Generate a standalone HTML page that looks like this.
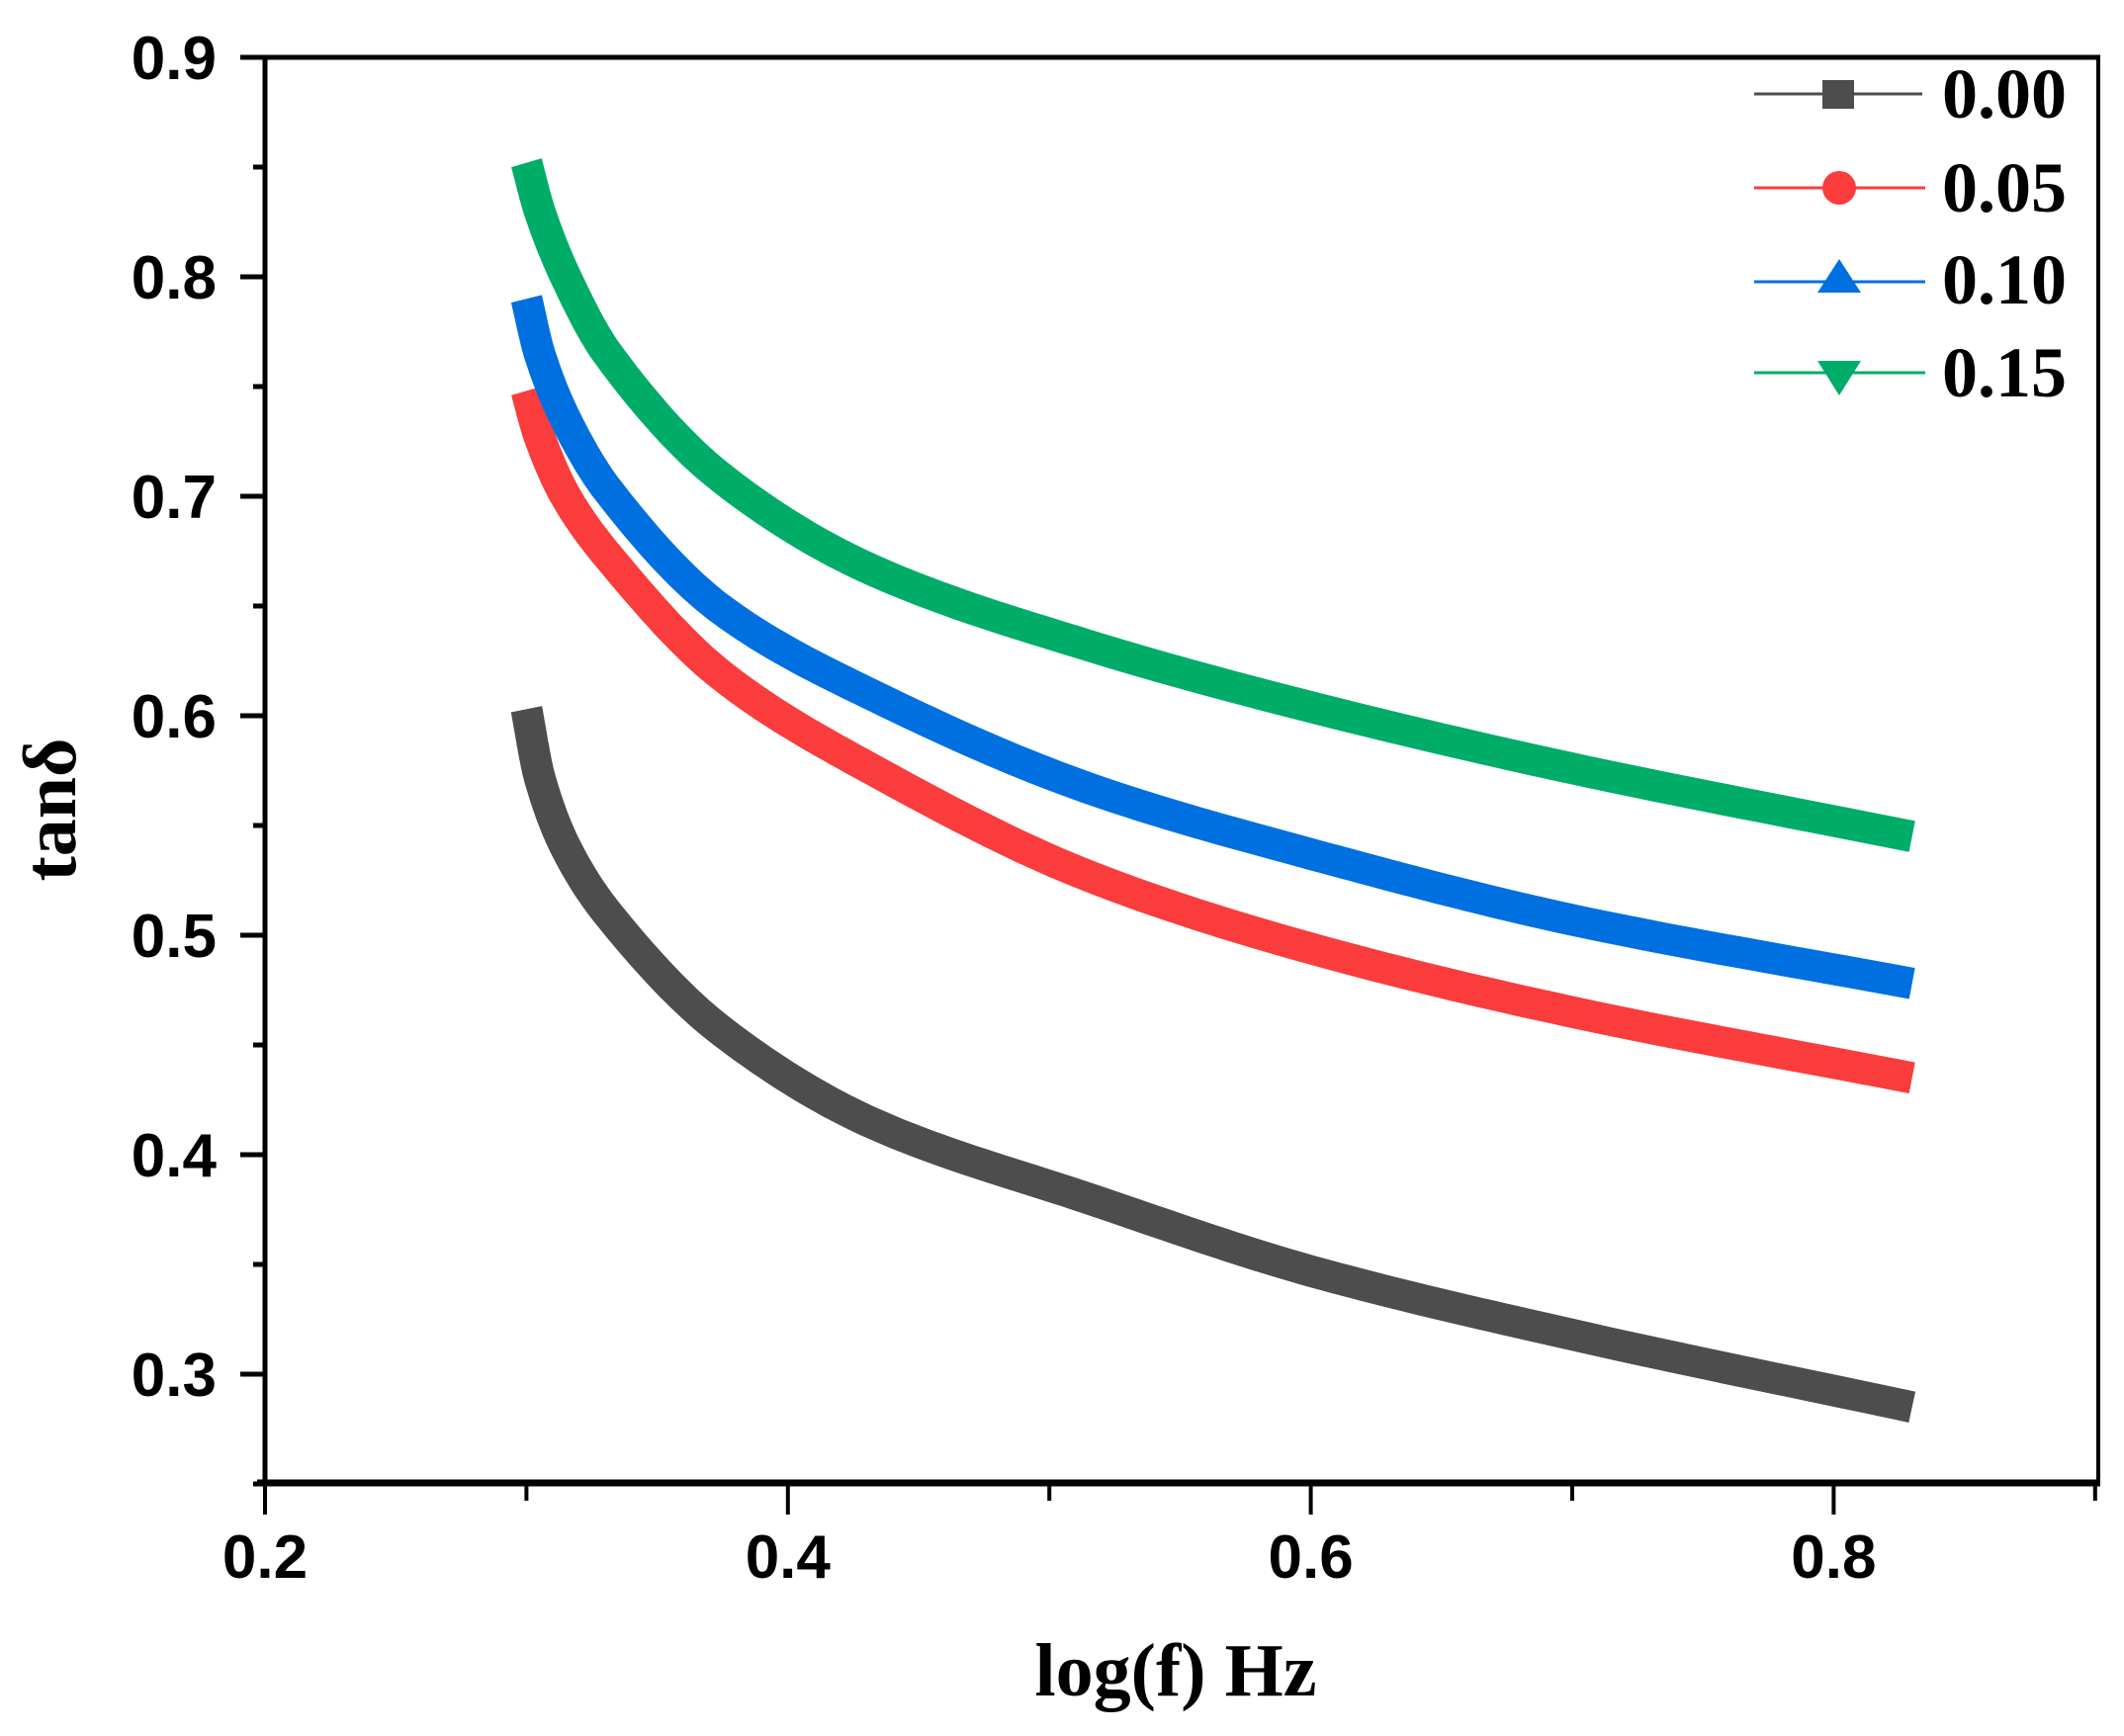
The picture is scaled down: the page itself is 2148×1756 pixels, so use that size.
<!DOCTYPE html>
<html><head><meta charset="utf-8"><style>
html,body{margin:0;padding:0;background:#fff;}
svg{display:block;}
</style></head><body>
<svg id="s" width="2148" height="1756" viewBox="0 0 2148 1756" xmlns="http://www.w3.org/2000/svg">
<rect width="2148" height="1756" fill="#fff"/>
<g id="curves" fill="none" stroke-linejoin="round" stroke-linecap="butt"></g>
<line x1="268" y1="58" x2="2124" y2="58" stroke="#000" stroke-width="5"/>
<line x1="2122" y1="56" x2="2122" y2="1500" stroke="#000" stroke-width="4"/>
<line x1="268" y1="56" x2="268" y2="1503" stroke="#000" stroke-width="5"/>
<line x1="260" y1="1500" x2="2124" y2="1500" stroke="#000" stroke-width="7"/>
<g id="ticks" stroke="#000"></g>
<g font-family="'Liberation Sans', Arial, sans-serif" font-weight="bold" font-size="62" fill="#000" id="labels"></g>
<text x="1189" y="1715" text-anchor="middle" font-family="'Liberation Serif', 'Times New Roman', serif" font-weight="bold" font-size="76">log(f) Hz</text>
<text transform="translate(76,819) rotate(-90)" text-anchor="middle" font-family="'Liberation Serif', 'DejaVu Serif', serif" font-weight="bold" font-size="76">tanδ</text>
<g font-family="'Liberation Serif', 'Times New Roman', serif" font-weight="bold" font-size="72" fill="#000">
<line x1="1774" y1="95" x2="1944" y2="95" stroke="#4d4d4d" stroke-width="3"/>
<rect x="1843" y="81" width="32" height="29" fill="#4d4d4d"/>
<text x="1964" y="119">0.00</text>
<line x1="1774" y1="190" x2="1947" y2="190" stroke="#fa3c3c" stroke-width="3"/>
<circle cx="1860" cy="190" r="17" fill="#fa3c3c"/>
<text x="1964" y="214">0.05</text>
<line x1="1774" y1="285" x2="1947" y2="285" stroke="#0070e0" stroke-width="3"/>
<polygon points="1860,262 1882,296 1838,296" fill="#0070e0"/>
<text x="1964" y="307">0.10</text>
<line x1="1774" y1="377" x2="1947" y2="377" stroke="#00ad68" stroke-width="3"/>
<polygon points="1838,365 1882,365 1860,400" fill="#00ad68"/>
<text x="1964" y="401">0.15</text>
</g>
</svg>
<script>
(function(){
var NS="http://www.w3.org/2000/svg";
function X(v){return 268+(v-0.2)*2644;}
function Y(v){return 58+(0.9-v)*2220;}
var data={
"#4d4d4d":[[0.30,0.603],[0.305,0.572],[0.315,0.54],[0.331,0.51],[0.375,0.456],[0.433,0.414],[0.515,0.38],[0.60,0.347],[0.70,0.318],[0.83,0.285]],
"#fa3c3c":[[0.30,0.748],[0.305,0.727],[0.315,0.70],[0.331,0.673],[0.375,0.618],[0.433,0.575],[0.515,0.527],[0.60,0.494],[0.70,0.465],[0.83,0.435]],
"#0070e0":[[0.30,0.79],[0.305,0.765],[0.315,0.735],[0.331,0.703],[0.375,0.648],[0.433,0.609],[0.515,0.567],[0.60,0.537],[0.70,0.507],[0.83,0.478]],
"#00ad68":[[0.30,0.852],[0.305,0.83],[0.315,0.80],[0.331,0.765],[0.375,0.708],[0.433,0.666],[0.515,0.632],[0.60,0.604],[0.70,0.576],[0.83,0.545]]
};
function mono(pts){
 var n=pts.length,xs=pts.map(p=>p[0]),ys=pts.map(p=>p[1]),d=[],m=[];
 for(var i=0;i<n-1;i++)d.push((ys[i+1]-ys[i])/(xs[i+1]-xs[i]));
 m[0]=d[0];m[n-1]=d[n-2];
 for(var i=1;i<n-1;i++){m[i]=(d[i-1]*d[i]<=0)?0:(2/(1/d[i-1]+1/d[i]));}
 var out=[];
 for(var i=0;i<n-1;i++){
  var h=xs[i+1]-xs[i];
  for(var k=0;k<20;k++){
   var t=k/20,t2=t*t,t3=t2*t;
   var y=(2*t3-3*t2+1)*ys[i]+(t3-2*t2+t)*h*m[i]+(-2*t3+3*t2)*ys[i+1]+(t3-t2)*h*m[i+1];
   out.push([xs[i]+t*h,y]);
  }
 }
 out.push(pts[n-1]);return out;
}
var g=document.getElementById("curves");
for(var c in data){
 var p=mono(data[c]);
 var d=p.map(function(a,i){return (i?"L":"M")+X(a[0]).toFixed(1)+","+Y(a[1]).toFixed(1);}).join(" ");
 var e=document.createElementNS(NS,"path");
 e.setAttribute("d",d);e.setAttribute("stroke",c);e.setAttribute("stroke-width","32");
 g.appendChild(e);
}
var t=document.getElementById("ticks"),L=document.getElementById("labels");
function line(x1,y1,x2,y2,w){var e=document.createElementNS(NS,"line");e.setAttribute("x1",x1);e.setAttribute("y1",y1);e.setAttribute("x2",x2);e.setAttribute("y2",y2);e.setAttribute("stroke-width",w);t.appendChild(e);}
function txt(x,y,s,a){var e=document.createElementNS(NS,"text");e.setAttribute("x",x);e.setAttribute("y",y);e.setAttribute("text-anchor",a);e.textContent=s;L.appendChild(e);}
for(var k=0;k<=12;k++){
 var v=0.3+k*0.05; if(v>0.901)break;
 var y=Y(v), major=(k%2==0);
 line(major?243:256,y,268,y,5);
 if(major) txt(219,y+22,v.toFixed(1),"end");
}
line(256,Y(0.25),268,Y(0.25),5);
for(var k=0;k<=7;k++){
 var v=0.2+k*0.1,x=X(v),major=(k%2==0);
 line(x,1500,x,major?1532:1518,4);
 if(major) txt(x,1596,v.toFixed(1),"middle");
}
})();
</script>
</body></html>
